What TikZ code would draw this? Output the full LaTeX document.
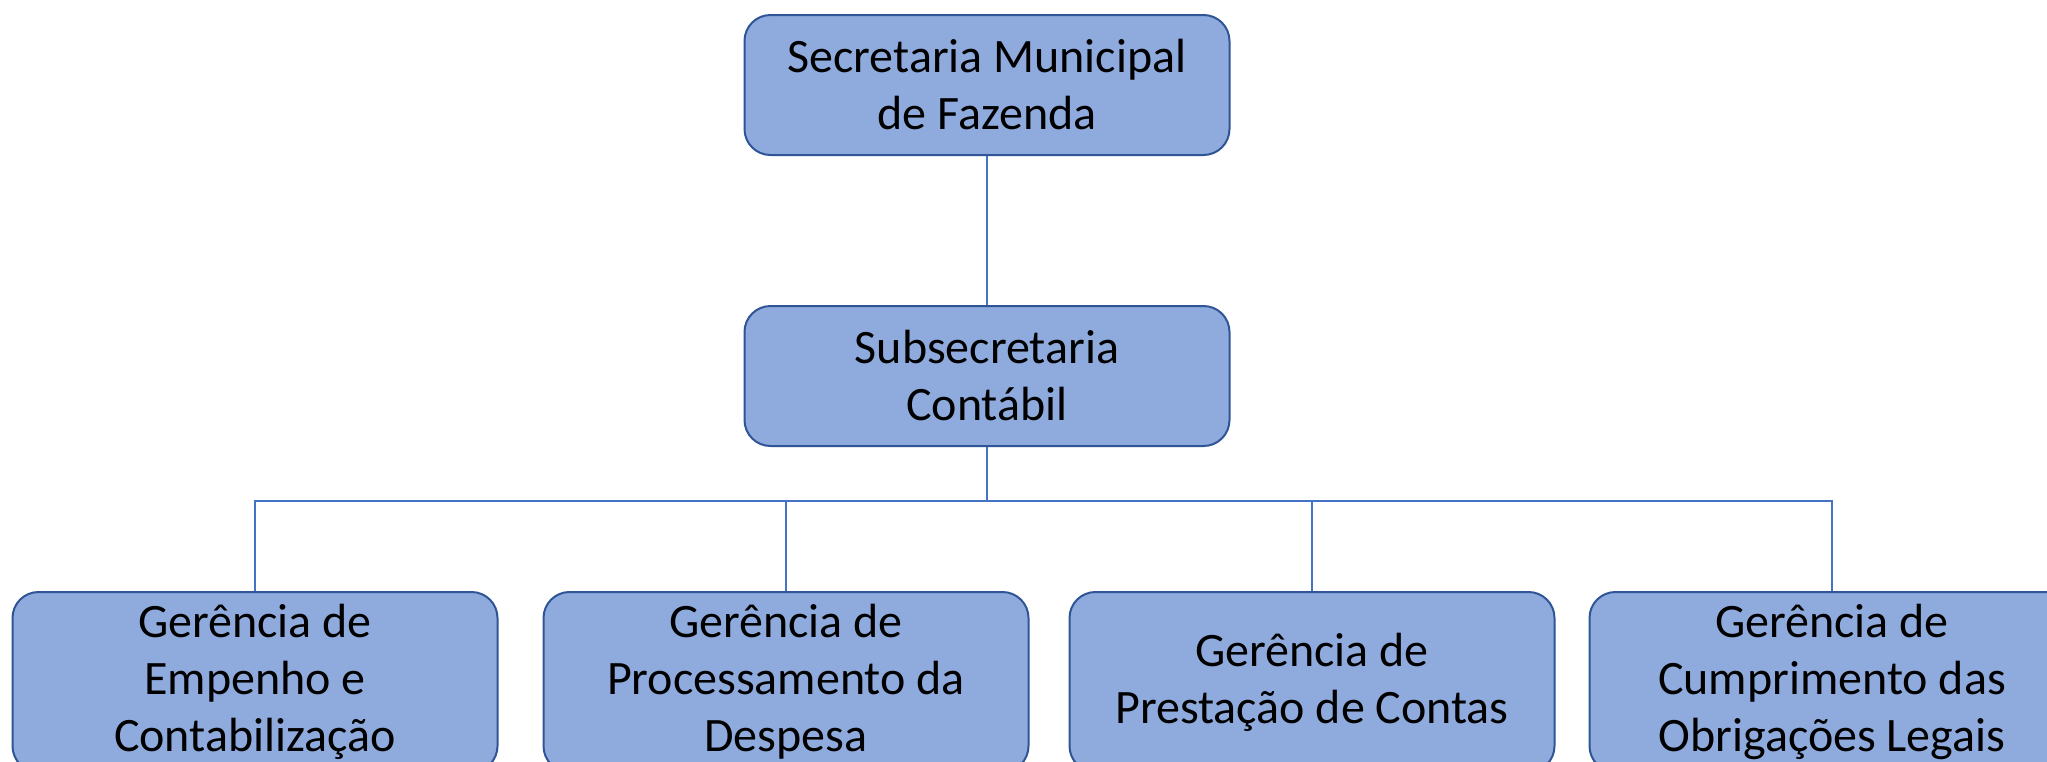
\documentclass[tikz,border=0pt]{standalone}
\usepackage{fontspec}
\setmainfont{Carlito}
\definecolor{boxfill}{HTML}{8FAADC}
\definecolor{boxdraw}{HTML}{2F5597}
\definecolor{linkcol}{HTML}{4472C4}
\begin{document}
\begin{tikzpicture}[x=0.5pt,y=-0.5pt,
  orgbox/.style={draw=boxdraw,fill=boxfill,line width=1pt,rounded corners=13pt,
    minimum width=242.5pt,align=center,inner sep=2pt,
    font=\fontsize{24}{28.5}\selectfont},
  topbox/.style={orgbox,minimum height=70pt},
  lowbox/.style={orgbox,minimum height=90pt},
  link/.style={draw=linkcol,line width=0.75pt}]
\useasboundingbox (0,0) rectangle (2047,761);
\clip (0,0) rectangle (2047,761);
\fill[white] (0,0) rectangle (2047,761);
\node[topbox] (sec) at (987,85) {Secretaria Municipal\\de Fazenda};
\node[topbox] (sub) at (987,376) {Subsecretaria\\Contábil};
\node[lowbox] (g1) at (255,682) {Gerência de\\Empenho e\\Contabilização};
\node[lowbox] (g2) at (786,682) {Gerência de\\Processamento da\\Despesa};
\node[lowbox] (g3) at (1312,682) {Gerência de\\Prestação de Contas};
\node[lowbox] (g4) at (1832,682) {Gerência de\\Cumprimento das\\Obrigações Legais};
\coordinate (bus) at (987,501);
\path[link] (sec.south) -- (sub.north);
\path[link] (sub.south) -- (bus);
\path[link] (g1.north) |- (bus);
\path[link] (g2.north) |- (bus);
\path[link] (g3.north) |- (bus);
\path[link] (g4.north) |- (bus);
\end{tikzpicture}
\end{document}
